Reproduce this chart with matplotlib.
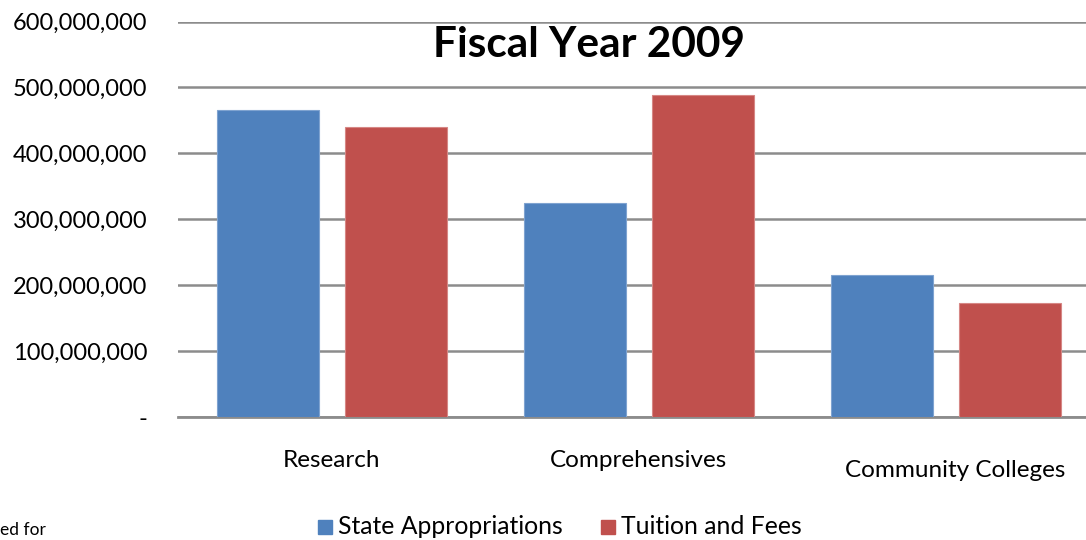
import numpy as np
import matplotlib.pyplot as plt
from matplotlib.ticker import FuncFormatter
from matplotlib.patches import Rectangle
from matplotlib.transforms import ScaledTranslation

categories = ['Research', 'Comprehensives', 'Community Colleges']
state_appropriations = [465_000_000, 325_000_000, 215_000_000]
tuition_and_fees = [440_000_000, 488_500_000, 173_500_000]
series_names = ['State Appropriations', 'Tuition and Fees']

blue = '#4f81bd'
red = '#c0504d'
plt.rcParams['font.family'] = ['Lato', 'DejaVu Sans']

W, H = 1086, 540
fig = plt.figure(figsize=(W / 100, H / 100), dpi=100)

# plot area runs a little past the right edge of the figure
left, right, bottom, top = 178, 1099, 417, 21.5
ax = fig.add_axes([left / W, (H - bottom) / H, (right - left) / W, (bottom - top) / H])

x = np.arange(len(categories))
bw = 102 / 307
off = 64 / 307
ax.bar(x - off, state_appropriations, bw, color=blue, edgecolor='#7fa3d0', linewidth=0.8, zorder=3)
ax.bar(x + off, tuition_and_fees, bw, color=red, edgecolor='#d68785', linewidth=0.8, zorder=3)

ax.set_xlim(-0.5, 2.5)
ax.set_ylim(0, 600_000_000)
ax.set_yticks(np.arange(0, 600_000_001, 100_000_000))
ax.yaxis.set_major_formatter(FuncFormatter(lambda v, p: '-' if v == 0 else f'{v:,.0f}'))
ax.tick_params(axis='y', length=0, pad=22, labelsize=17)
ax.tick_params(axis='x', length=0, pad=24, labelsize=17.5)
ax.set_xticks(x)
ax.set_xticklabels(categories)
# last label sits a bit lower and to the right
last = ax.get_xticklabels()[2]
last.set_y(-0.025)
last.set_transform(last.get_transform() + ScaledTranslation(0.1, 0, fig.dpi_scale_trans))
ax.yaxis.grid(True, color='#8c8c8c', linewidth=1.8, zorder=0)
for s in ['top', 'right', 'left']:
    ax.spines[s].set_visible(False)
ax.spines['bottom'].set_color('#8c8c8c')
ax.spines['bottom'].set_linewidth(2)

fig.text(589 / W, 1 - 45 / H, 'Fiscal Year 2009', ha='center', va='center',
         fontsize=30.5, fontweight='bold')

# legend drawn by hand along the bottom
ly = 1 - 527 / H
for xs, name, col in [(324.5, series_names[0], blue), (608, series_names[1], red)]:
    fig.patches.append(Rectangle(((xs - 7) / W, ly - 7 / H), 14 / W, 14 / H,
                                 color=col, transform=fig.transFigure))
    fig.text((xs + 13) / W, ly, name, ha='left', va='center', fontsize=17.8)

fig.text(0, 1 - 530 / H, 'ed for', ha='left', va='center', fontsize=12.5)

fig.savefig('out.png', dpi=100)
